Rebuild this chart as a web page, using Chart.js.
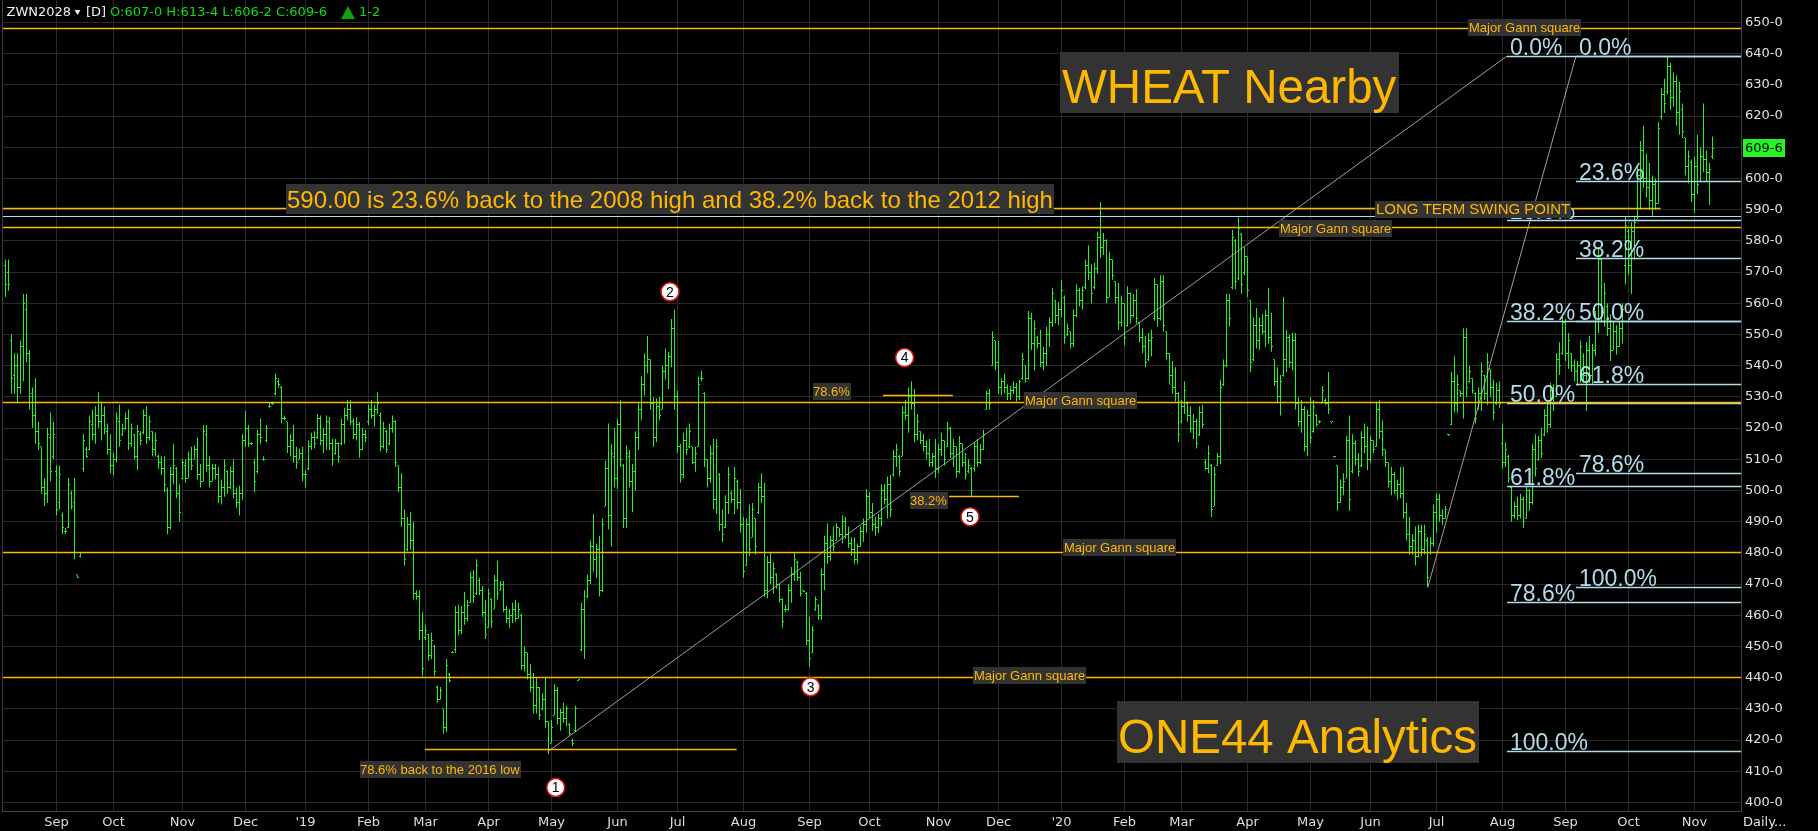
<!DOCTYPE html>
<html><head><meta charset="utf-8">
<script src="https://cdn.jsdelivr.net/npm/chart.js@4.4.1/dist/chart.umd.min.js"></script>
<style>html,body{margin:0;padding:0;background:#000;overflow:hidden}canvas{display:block}</style>
</head><body>
<canvas id="c" width="1818" height="831"></canvas>
<script>
// ===== DATA =====
// Daily bars ZWN2028 (wheat nearby), 9 Aug 2018 .. 10 Nov 2020, one entry per trading day
const highs = [
574,574,550,544,544,548,563,563,545,533,536,522,514,504,520,525,522,
508,508,493,488,504,500,504,473,480,518,514,524,526,527,531.5,528.5,527,521.5,518,
512,525,527.5,521.5,525,526,521.5,518,521,519,526,527,524,519,518.5,511.5,511,511,501,507.5,515,507.5,502,
510,510,512.5,514,514.5,517,508.5,521,521,511,508.5,508.5,507.5,503.5,510,506.5,507.5,510,501,501.5,518,
525.5,521,515.5,510,519.5,523,511,521,528,528.5,537.5,536,533.5,524,522,518,521,514,513.5,514,
506.5,516,518.5,519,524.5,524,520,524,523.5,516.5,516.5,515.5,523,526.5,529,529,523,523.5,522,520,519.5,
527.5,529,527.5,531.5,525,522,519.5,521.5,524,522.5,508,505.5,494,491.5,493,490,468,468,461,
457,454,454.5,450.5,437.5,437,430,446,441.5,448.5,463,463.5,463,467.5,465,474,474.5,478,472,469.5,465,
468.5,465.5,473,477.5,471,471,463,462,464,465,464,460.5,450,448,444.5,441.5,440,437,435,440,426,
426.5,438,437,430,432,431,425.5,420.5,431,439.5,464,468,473,484,492.5,483,485.5,491,509.5,521.5,515,520,
523,529,508.5,514.5,513,508.5,519,528,536.5,544,549.5,542,530,529.5,530,540,545.5,544.5,555,558,
532,515,518.5,520,521.5,514,514,536.5,538.5,531.5,510,514.5,516.5,516.5,505.5,494,498.5,507.5,500,507.5,503.5,500.5,
491.5,491,495.5,496,491,502.5,505.5,502.5,479,480,477,473.5,470,465.5,463.5,470,475.5,480,477.5,474,468,467.5,
459.5,456.5,466,463.5,475,485.5,489.5,485.5,488.5,489.5,488,492,491.5,488.5,485,485,483,488.5,491,500.5,
499.5,496,491.5,492.5,502,502,504.5,505,513,515,511.5,527,529,533,535,532.5,524.5,519,518,516,516.5,512,516.5,
515,518.5,516,522,520.5,516.5,514,517.5,515,512,510,507.5,515.5,516.5,515,519.5,532,532.5,551,548,
548,536,537.5,534,533.5,535,534.5,535.5,544,540,557.5,557,554.5,549.5,551.5,546,552.5,555.5,565,561,560.5,
567.5,562.5,553.5,551,558,566,565,565.5,574,578.5,572.5,573,583,592.5,582.5,580.5,576.5,574,567,566.5,562.5,
560,565.5,563.5,563,564.5,554,552,549.5,550.5,551.5,568,566,569,569,551,544,541.5,539.5,531.5,
529,535,528.5,527,524.5,523,527,527.5,510,514.5,508.5,507.5,512,535.5,542,563,563,583.5,580.5,587.5,582.5,578,
575,561,555.5,558.5,555.5,556.5,558,565,557,542,539.5,537,562,551.5,550,550.5,550.5,530,529,527,526,
530,529,524.5,522.5,533.5,529.5,538,522,511,508,503.5,505.5,517.5,524,518,516,512,519,521.5,520.5,
517.5,516,528.5,529,522.5,513,509,507.5,506,503.5,507.5,507.5,496,491.5,486,488.5,489,489,489,485,485,495.5,
499,499,494,495,518,538,543,537,532,552,552,540,536,531.5,533,541,537,544,539,535.5,534.5,535,
521.5,515.5,511.5,501.5,496.5,498,499,498,501.5,500.5,515,518,517.5,520,526,529,534.5,534,544,547.5,556.5,
555,550.5,544,542,541.5,548,544,547.5,549.5,547,557.5,578,574.5,566.5,560,556.5,554,553,554,560,588,
584,586,588,604,612,617,608,605,601,600,618,629,632,639.25,637,634,633,631,624,613,609,606,
607,614,610,624,609,605,613.5];
const lows = [
562,564,531,531,528,531,535,541,526,520,515,513,499,495,496,503,510,
492,494,486,486,488,494,478,472,478.5,506,510.5,513,516,515,520,516,518,511.5,505.5,
505,509,514,517.5,519.5,513,514,510,506.5,514.5,518,515,516,511,511,507,505,499.5,486,487.5,502,497.5,490,
503.5,502.5,504,506.5,510,503.5,501,503,506,501,503,503.5,496,495.5,498,499,500.5,497.5,494.5,492,497,
514,514,514.5,499.5,505.5,515,509.5,515.5,526.5,527.5,530.5,533,521.5,522.5,512,511,509,507,510,503,
501,506.5,513,513.5,516.5,514.5,512,513,513,508,511.5,509,514.5,515,522.5,521,516.5,516,510.5,513,515.5,
521,523,520.5,524.5,512.5,513.5,512,514.5,518.5,507.5,499.5,488.5,476,480.5,481,465,465,452,440.5,
452,445.5,446,440.5,432,433,422,422.5,438.5,448,448,453.5,454,457,458,464,464,466.5,466.5,459.5,452.5,
456,456,462,465,468,461,457.5,456,457.5,458,459,442.5,442,439.5,435.5,428.5,428.5,426.5,429.5,424,415.5,
419,428,425,423,425.5,424.5,421.5,418,422.5,439,448.5,446,465.5,470,474,472,466,467.5,495,487.5,482,501,
500.5,507.5,488,488,501,493,500,513,522.5,530.5,537.5,526,514,515.5,522.5,526,535.5,532.5,539.5,526,
512,502.5,504,511.5,513.5,508.5,506,514,535,507.5,501,502.5,494,492.5,487,483.5,488,492.5,496,492.5,494,486.5,
472,476,479,485,479.5,492.5,496,466,465.5,470,467,468.5,464,456,461,461.5,464,471,471,466,467.5,450.5,
443.5,448,461.5,458.5,458.5,468,476.5,477.5,480.5,484,485,483,484.5,481.5,479,476.5,476.5,482,483.5,486.5,
491,487,485.5,486.5,488.5,495.5,491,491.5,504.5,507.5,504.5,511,522.5,518.5,526,515.5,516,515,512.5,510,507.5,507.5,504,
505.5,511,508,514,510.5,507.5,504,505.5,507.5,503.5,505.5,498,506,507.5,508.5,513,526,526,540,538.5,
531,530.5,531,529,529,531,528.5,529,535.5,534.5,535.5,545,538.5,545.5,539.5,538.5,540,546,552.5,553.5,553,
555.5,547,549.5,545.5,546,555.5,559,558,564.5,567.5,560,564.5,569.5,574.5,575.5,560,562,567.5,560,551.5,552.5,
546.5,552.5,553.5,555.5,553.5,547.5,544,539.5,541.5,543,554.5,552.5,554.5,551,542,534,531,528.5,515.5,
521.5,524.5,522,518.5,516.5,513.5,517.5,520,506.5,505.5,491.5,495,508,508.5,533.5,539.5,552.5,564.5,564.5,567.5,563,569,
562,538,541.5,545.5,545,550,546,547,544.5,533.5,528,524,536.5,538,539.5,538.5,526,520.5,518.5,512.5,511,
515,518.5,520.5,521.5,528,527.5,524.5,521.5,510.5,493.5,496,498.5,504,493.5,505.5,508,504.5,507.5,512,506.5,
509,512,514,516.5,511,507.5,501,498.5,499,497,497.5,491,484,479.5,479.5,476,478.5,479,479.5,469,479.5,482,
486.5,490,489,491,517.5,521,525,525,530,523,530,534.5,531,521.5,526,525.5,529,527.5,530,522.5,527.5,526.5,
507,507.5,502.5,490,491,490.5,491,488,491,493.5,495.5,504.5,509.5,510.5,517.5,518.5,520,525.5,530,537,543.5,
541.5,539,538,535,533.5,534.5,534.5,525.5,534.5,534,543,550.5,554,552.5,549.5,541.5,545,543.5,546,547,566,
569,563,574,587,590,597,594,590,588,590,592,619,621,627,622,623,617,614,613,601,598.5,592.5,
589,595,599,602,599,591.5,606.25];
const opens = [
572,570,548,537,540,533,546,558,544,531,524,519,514,501,499,517,511,
506,496,492,487,488,499,496,473,479,507,513,513,521,518,524,522,524,519,513,
508,510,522,518,520,523,515,518,511,518,518.5,524,517,519,513,511,509,507,500,488,505,507,499,
504,508,504,510,510,513,505,503,518,508,503,507,505,498,501,506,501,506,499,496,499,
516,520,515,509,506,518,510,516,527,528,531,535,533,523,522,514,516,511,510,512,
505,507,514,517,517,523,516,518,522,515,512,515,515,521,524,526,522,518,521,513,518,
522,526,524,526,524,514,519,515,520,522,508,501,491,481,489,484,467,466,455,
453,454,447,450,437,433,430,424,441,448,449,461,455,461,459,464,472,467,471,468,461,
456,465,462,471,468,470,462,459,460,462,459,460,444,448,441,437,431,437,430,433,426,
419,428,436,427,429,427,425,420,423,439,449,462,466,471,482,478,481,468,495,507,492,511,
504,521,508,491,511,503,506,517,526,534,540,542,528,517,527,526,538,540,543,552,
530,514,505,516,514,514,509,514,536,531,510,504,512,497,505,489,488,496,499,497,503,496,
489,476,489,485,491,493,501,498,468,477,472,473,470,465,462,462,468,473,477,472,468,467,
452,448,462,463,460,473,483,479,484,484,488,486,490,486,483,481,478,482,487,489,
498,493,489,488,491,500,497,502,505,511,511,511,525,524,530,528,518,519,516,514,512,509,511,
507,513,516,514,520,512,514,506,515,509,506,507,507,514,509,513,526,531,540,548,
541,533,535,533,531,532,533,530,536,540,536,555,547,549,547,541,544,550,554,561,556,
558,562,550,551,547,556,564,561,565,572,570,565,571,581,578,580,562,574,567,562,554,
560,553,563,556,561,554,549,546,542,548,555,566,555,567,551,544,537,533,531,
522,527,528,524,520,522,518,525,509,507,508,495,508,511,534,540,561,565,580,568,582,570,
575,561,542,553,548,553,551,556,549,542,535,530,537,542,549,541,548,528,522,526,514,
524,519,524,522,528,529,528,522,511,508,496,501,504,516,506,515,510,508,517,514,
510,516,514,526,519,513,509,503,505,500,502,499,493,486,482,484,479,487,481,484,480,483,
493,497,492,491,518,521,535,528,532,531,549,535,536,531,526,531,537,531,539,533,528,532,
515,509,511,501,492,495,492,497,491,500,496,513,510,516,518,524,521,532,530,542,544,
554,544,544,540,538,540,543,537,545,537,545,555,574,557,559,552,545,551,546,552,572,
583,572,583,587,601,609,600,597,593,598,592,620,627,628,636,626,631,621,622,613,604,605,
595,604,599,607,606,602,607];
const closes = [
566,566,536,540,533,546,560,544,530,524,519,515,501,499,518,506,518,
494,505,488,487,502,495,480,472,480,516,511,522,518,524,522,524,520,513,508,
510,523,516,520,523,515,520,511,519,516,524,517,522,513,516,509,507,502,488,505,508,499,493,
509,504,510,508,513,505,503,519,508,503,507,505,498,501,508,501,506,499,496,499,516,
520,515,515,503,518,517,510,520,527,528,536,534,523,523,514,516,511,509,512,505,
505,514,517,515,523,516,518,522,515,510,515,511,521,524,526,522,518,521,513,518,517,
526,524,526,528,514,520,513,520,522,509,501,491,478,489,484,467,466,455,443,
455,447,452,442,433,436,424,444,439,448,461,455,461,459,463,472,466,476,468,461,454,
467,458,471,467,470,462,459,460,462,459,462,444,448,441,437,431,437,428,433,426,417,
424,436,427,429,427,430,422,419,430,439.5,462,450,471,482,478,481,468,489,507,492,512,504,
521,510,491,512,503,506,517,526,534,540,542,528,517,527,524,538,540,543,552,530,
514,505,516,513,519,509,512,534,536,510,504,512,497,514,489,486,496,505,497,504,496,489,
474,489,481,494,482,501,498,468,477,472,475,470,465,458,462,468,473,478,472,467,467.5,452,
446,455,465,460,473,483,479,484,482,488,486,490,486,483,481,478,482,487,489,498,
493,489,488,491,500,497,502,494,511,513,506,525,524,530,528,518,522,516,514,512,509,511,507,
513,516,510,520,512,514,506,515,509,505,508,500,514,509,513,518,531,528,549,541,
533,535,533,531,532,533,530,535,542,536,555,547,552,547,541,544,550,554,563,556,558,
564,549,552,547,556,564,561,564,572,570,563,571,581,578,580,562,574,569,562,554,560,
549,563,556,561,555,549,546,541,548,549,566,555,567,553,544,537,533,531,518,
527,532,524,520,522,515,525,521,507,512,494,505,511,533,540,561,555,581,567,584,566,575,
564,541,553,548,553,551,556,549,546,535,530,535,542,549,541,548,528,522,526,514,524,
517,527,521,522,532,528,526,522,511,496,501,503,516,497,515,510,506,517,514,510,
516,513,526,519,513,509,503,505,500,502,499,493,486,482,484,479,487,481,486,472,483,493,
497,492,491,494,518,535,528,534,531,549,533,538,532,523,531,538,531,541,533,525,532,528,
509,513,504,492,495,492,497,490,500,496,513,507,516,512,524,521,532,528,542,540,554,
544,548,540,538,540,546,537,545,537,545,555,574,557,563,552,545,551,546,552,558,585,
572,583,586,601,609,600,597,593,598,592,616,627,624,636,626,631,621,628,615,604,607,595,
604,598,607,606,602,603,609.75];

// bar index of the first trading day of each month, and its label
const monthStarts = [17,36,59,80,100,121,140,161,182,204,224,246,268,288,311,331,352,373,392,414,435,455,477,499,520,541,563];
const monthLabels = ['Sep','Oct','Nov','Dec',"'19",'Feb','Mar','Apr','May','Jun','Jul','Aug','Sep','Oct','Nov','Dec',"'20",'Feb','Mar','Apr','May','Jun','Jul','Aug','Sep','Oct','Nov'];
const yTickValues = [400,410,420,430,440,450,460,470,480,490,500,510,520,530,540,550,560,570,580,590,600,610,620,630,640,650];

// horizontal study levels (prices)
const gannLevels = [648, 584.4, 528.3, 480.2, 440.1];
const swingLevel = 590.5;
const blueLevel = 587.7;
const fibLabels = ['0.0%','23.6%','38.2%','50.0%','61.8%','78.6%','100.0%'];
const fib1Levels = [639.25, 586.6, 554.1, 527.75, 501.4, 463.95, 416.25];
const fib2Levels = [639.25, 599.1, 574.2, 554.1, 534.0, 505.6, 469.0];
const shortLevels = [417, 530.5, 498.1];
const shortTexts = ['78.6% back to the 2016 low', '78.6%', '38.2%'];
const markerTexts = ['1','2','3','4','5'];
const markerPrices = [404.8, 563.7, 437.1, 542.6, 491.6];

// ===== LAYOUT / STYLE (positions in bar-index units) =====
const POS = {
  fib1Start: 500.5, fib2Start: 523.5,
  diag1: [180.7, 416.25, 500.5, 639.25],
  diag2: [474.1, 469, 523.5, 639.25],
  swingEnd: 551.7,
  gannLabelX: [487.5, 424.5, 339.5, 352.5, 322.5],
  gannLabelDy: [-1.5, 1.5, -1.3, -5, -2.3],
  swingLabelX: 456.5,
  noteX: 93.5,
  wheatX: 351.5, wheatBase: 624.2,
  one44X: 370.5, one44Base: 415.8,
  shortFrom: [139.8, 292.5, 314.5], shortTo: [243.7, 315.8, 337.8],
  shortLabelX: [118.3, 269.3, 301.5], shortLabelP: [410.7, 531.7, 496.95],
  markerX: [183.4, 221.5, 268.4, 299.7, 321.5]
};
const GREEN = '#1ef51e';
const ORANGE = '#ffb800';
const ORANGE_LINE = '#ffb600';
const BLUE = '#b3dbea';
const BOX = '#333333';
const SANS = '"Liberation Sans", Arial, sans-serif';
const AXF = '"DejaVu Sans", Verdana, sans-serif';

Chart.defaults.font.family = AXF;
Chart.defaults.font.size = 13;
Chart.defaults.color = '#e2e2e2';

const annot = {
  id: 'annot',
  afterDatasetsDraw(chart) {
    const {ctx, chartArea: ca} = chart;
    const xs = chart.scales.x, ys = chart.scales.y;
    const X = v => xs.getPixelForValue(v), Y = v => ys.getPixelForValue(v);
    const cr = v => Math.floor(v) + 0.5;
    ctx.save();
    ctx.beginPath(); ctx.rect(ca.left, ca.top, ca.right - ca.left, ca.bottom - ca.top); ctx.clip();
    // open / close ticks
    ctx.fillStyle = GREEN;
    for (let i = 0; i < highs.length; i++) {
      const xp = X(i);
      ctx.fillRect(xp - 1.5, Math.floor(Y(opens[i])), 1, 1);
      ctx.fillRect(xp + 0.5, Math.floor(Y(closes[i])), 1, 1);
    }
    const hline = (p, x0, x1, col, lw) => {
      ctx.strokeStyle = col; ctx.lineWidth = lw;
      const y = lw % 2 ? cr(Y(p)) : Math.round(Y(p));
      ctx.beginPath(); ctx.moveTo(x0, y); ctx.lineTo(x1, y); ctx.stroke();
    };
    // diagonals
    ctx.strokeStyle = 'rgba(185,185,185,0.85)'; ctx.lineWidth = 1;
    [POS.diag1, POS.diag2].forEach(d => {
      ctx.beginPath(); ctx.moveTo(X(d[0]), Y(d[1])); ctx.lineTo(X(d[2]), Y(d[3])); ctx.stroke();
    });
    // fib lines
    fib1Levels.forEach(p => hline(p, X(POS.fib1Start), ca.right, BLUE, 1.5));
    fib2Levels.forEach(p => hline(p, X(POS.fib2Start), ca.right, BLUE, 1.5));
    // fib labels
    ctx.font = '23px ' + SANS; ctx.fillStyle = BLUE; ctx.textBaseline = 'alphabetic'; ctx.textAlign = 'left';
    fib1Levels.forEach((p, k) => ctx.fillText(fibLabels[k], X(POS.fib1Start) + 3, Y(p) - 1.5));
    fib2Levels.forEach((p, k) => ctx.fillText(fibLabels[k], X(POS.fib2Start) + 3, Y(p) - 1.5));
    // full width lines
    gannLevels.forEach(p => hline(p, ca.left, ca.right, ORANGE_LINE, 1.3));
    hline(blueLevel, ca.left, ca.right, BLUE, 1);
    hline(swingLevel, ca.left, X(POS.swingEnd), ORANGE_LINE, 1.3);
    // short lines
    shortLevels.forEach((p, k) => hline(p, X(POS.shortFrom[k]), X(POS.shortTo[k]), ORANGE_LINE, 1.3));

    const boxText = (text, font, left, cy, h, padL, padR) => {
      ctx.font = font;
      const w = ctx.measureText(text).width;
      ctx.fillStyle = BOX;
      ctx.fillRect(Math.round(left), Math.round(cy - h / 2), Math.round(w + padL + padR), h);
      ctx.fillStyle = ORANGE; ctx.textBaseline = 'middle'; ctx.textAlign = 'left';
      ctx.fillText(text, Math.round(left) + padL, cy + 1);
    };
    const bigBox = (text, font, left, base, asc, desc, padL, padR) => {
      ctx.font = font;
      const w = ctx.measureText(text).width;
      ctx.fillStyle = BOX;
      ctx.fillRect(Math.round(left), Math.round(base - asc), Math.round(w + padL + padR), asc + desc);
      ctx.fillStyle = ORANGE; ctx.textBaseline = 'alphabetic'; ctx.textAlign = 'left';
      ctx.fillText(text, Math.round(left) + padL, base);
    };
    // Gann labels
    gannLevels.forEach((p, k) => boxText('Major Gann square', '13px ' + SANS, X(POS.gannLabelX[k]), Y(p) + POS.gannLabelDy[k], 17, 1, 1));
    // swing label (covers fib 23.6% label)
    boxText('LONG TERM SWING POINT', '15px ' + SANS, X(POS.swingLabelX), Y(swingLevel) + 1, 17, 1, 1);
    // big note on the swing line
    bigBox('590.00 is 23.6% back to the 2008 high and 38.2% back to the 2012 high', '24px ' + SANS, X(POS.noteX), Y(swingLevel), 24, 6, 1, 1);
    // titles
    bigBox('WHEAT Nearby', '47.5px ' + SANS, X(POS.wheatX), Y(POS.wheatBase), 51, 10, 2, 3);
    bigBox('ONE44 Analytics', '47.5px ' + SANS, X(POS.one44X), Y(POS.one44Base), 52, 10, 1, 2);
    // short labels
    shortTexts.forEach((t, k) => boxText(t, '13px ' + SANS, X(POS.shortLabelX[k]), Y(POS.shortLabelP[k]), 17, 0, 1));
    // numbered markers
    markerTexts.forEach((t, k) => {
      const cx = X(POS.markerX[k]), cy = Y(markerPrices[k]);
      ctx.beginPath(); ctx.arc(cx, cy, 9, 0, Math.PI * 2);
      ctx.fillStyle = '#ffffff'; ctx.fill();
      ctx.lineWidth = 1.5; ctx.strokeStyle = '#e01010'; ctx.stroke();
      ctx.fillStyle = '#000'; ctx.font = '14px ' + SANS; ctx.textAlign = 'center'; ctx.textBaseline = 'middle';
      ctx.fillText(t, cx, cy + 1);
    });
    ctx.restore();
    // left border
    ctx.save();
    ctx.strokeStyle = '#3c3c3c'; ctx.lineWidth = 1;
    ctx.beginPath(); ctx.moveTo(ca.left + 0.5, ca.top); ctx.lineTo(ca.left + 0.5, ca.bottom); ctx.stroke();
    ctx.restore();
  },
  afterDraw(chart) {
    const {ctx} = chart;
    const ys = chart.scales.y;
    ctx.save();
    // header
    ctx.font = '13px ' + AXF; ctx.textBaseline = 'middle'; ctx.textAlign = 'left';
    ctx.fillStyle = '#f0f0f0';
    ctx.fillText('ZWN2028', 6.5, 13);
    ctx.beginPath(); ctx.moveTo(74.5, 10); ctx.lineTo(80.5, 10); ctx.lineTo(77.5, 15); ctx.closePath(); ctx.fill();
    ctx.fillText('[D]', 86, 13);
    ctx.fillStyle = '#10dc10';
    ctx.fillText('O:607-0 H:613-4 L:606-2 C:609-6', 110, 13);
    ctx.fillStyle = '#11a011';
    ctx.beginPath(); ctx.moveTo(341, 19); ctx.lineTo(355, 19); ctx.lineTo(348, 6); ctx.closePath(); ctx.fill();
    ctx.fillStyle = '#10dc10';
    ctx.fillText('1-2', 359, 13);
    // last price tag
    const last = closes[closes.length - 1];
    const py = ys.getPixelForValue(last);
    ctx.fillStyle = '#22f522';
    ctx.fillRect(1743, Math.round(py - 9), 42, 18);
    ctx.fillStyle = '#000';
    ctx.fillText('609-6', 1745, py + 0.5);
    // footer
    ctx.fillStyle = '#e2e2e2';
    ctx.fillText('Daily...', 1743, 823);
    ctx.restore();
  }
};

new Chart(document.getElementById('c'), {
  type: 'bar',
  data: {
    datasets: [{
      data: highs.map((h, i) => ({x: i, y: [lows[i], h]})),
      backgroundColor: GREEN,
      borderWidth: 0,
      barThickness: 1,
      inflateAmount: 0,
      grouped: false
    }]
  },
  options: {
    responsive: false,
    animation: false,
    devicePixelRatio: 1,
    layout: {padding: {left: 2, right: 0, top: 0, bottom: 0}},
    plugins: {legend: {display: false}, tooltip: {enabled: false}},
    scales: {
      x: {
        type: 'linear', min: -7 / 6, max: 578.5, offset: false,
        grid: {color: '#2a2a2a', lineWidth: 1, drawTicks: false, offset: false},
        border: {display: true, color: '#444444'},
        ticks: {autoSkip: false, maxRotation: 0, padding: 4, color: '#dedede', font: {size: 13},
          callback: (v, idx) => monthLabels[idx]},
        afterBuildTicks: s => { s.ticks = monthStarts.map(v => ({value: v})); },
        afterFit: s => { s.height = 20; s.paddingLeft = 0; s.paddingRight = 0; }
      },
      y: {
        position: 'right', min: 397.28, max: 657.21,
        grid: {color: '#2a2a2a', lineWidth: 1, drawTicks: false},
        border: {display: true, color: '#444444'},
        ticks: {autoSkip: false, padding: 4, color: '#e2e2e2', font: {size: 13},
          callback: v => v + '-0'},
        afterBuildTicks: s => { s.ticks = yTickValues.map(v => ({value: v})); },
        afterFit: s => { s.width = 77; s.paddingTop = 0; s.paddingBottom = 0; }
      }
    }
  },
  plugins: [annot]
});
</script>
</body></html>
